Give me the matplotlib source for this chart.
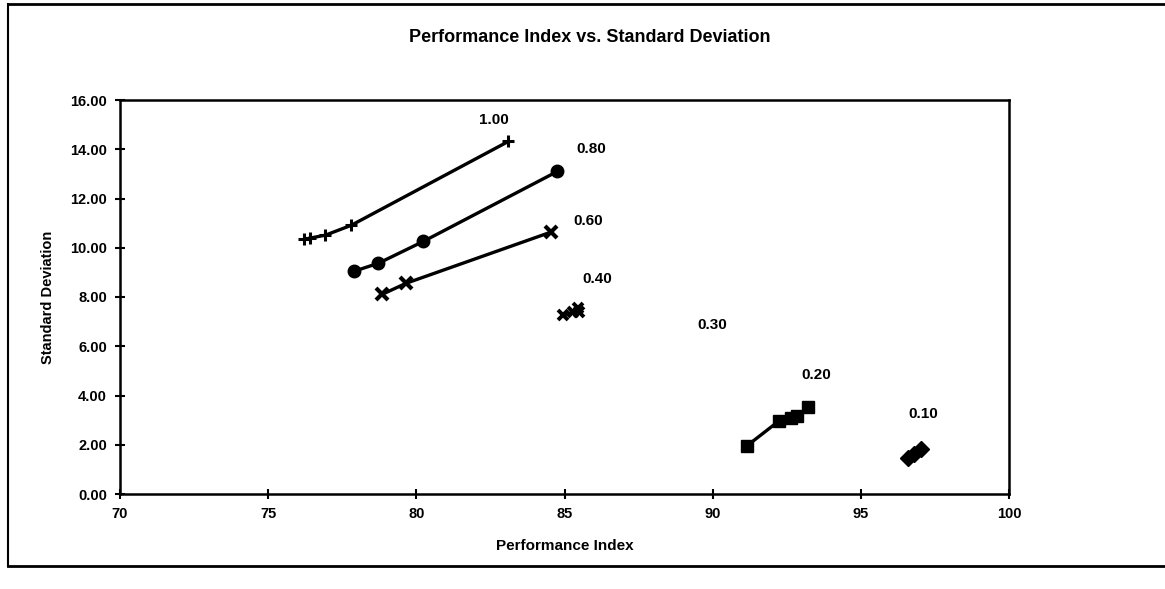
import matplotlib
matplotlib.use("Agg")
import matplotlib.pyplot as plt
from matplotlib.lines import Line2D

plt.rcParams['font.family'] = ['Liberation Sans', 'DejaVu Sans']
plt.rcParams['font.weight'] = 'bold'

# Performance index (x) and standard deviation (y) for each weighting level
pi_100 = [76.22, 76.40, 76.93, 77.80, 83.11]
sd_100 = [10.34, 10.39, 10.51, 10.91, 14.32]

pi_080 = [77.91, 78.72, 80.24, 84.76]
sd_080 = [9.05, 9.37, 10.26, 13.10]

pi_060 = [78.85, 79.66, 84.53]
sd_060 = [8.11, 8.56, 10.63]

pi_040 = [84.95, 85.27, 85.44, 85.50]
sd_040 = [7.26, 7.38, 7.55, 7.40]

pi_020 = [91.15, 92.23, 92.65, 92.85, 93.21]
sd_020 = [1.95, 2.96, 3.10, 3.15, 3.53]

pi_010 = [96.60, 96.80, 97.03]
sd_010 = [1.46, 1.62, 1.83]

series_labels = ["1.00", "0.80", "0.60", "0.40", "0.30", "0.20", "0.10"]
label_x = [82.6, 85.9, 85.8, 86.1, 90.0, 93.5, 97.1]
label_y = [15.2, 14.0, 11.1, 8.75, 6.85, 4.85, 3.25]

x_ticks = [70, 75, 80, 85, 90, 95, 100]
y_ticks = [0, 2, 4, 6, 8, 10, 12, 14, 16]

W, H = 1165, 589
fig = plt.figure(figsize=(W / 100, H / 100), dpi=100)
fig.patch.set_facecolor('white')

ax = fig.add_axes([120 / W, 1 - 494 / H, (1009 - 120) / W, (494 - 100) / H])

line_kw = dict(color='black', lw=2.4)
ax.plot(pi_100, sd_100, marker='+', ms=9, mew=2.2, **line_kw)
ax.plot(pi_080, sd_080, marker='o', ms=9, **line_kw)
ax.plot(pi_060, sd_060, marker='x', ms=8, mew=3, **line_kw)
ax.plot(pi_040, sd_040, marker='x', ms=7, mew=2.8, **line_kw)
ax.plot(pi_020, sd_020, marker='s', ms=9, **line_kw)
ax.plot(pi_010, sd_010, marker='D', ms=8, color='black', lw=7,
        solid_capstyle='round')

for txt, lx, ly in zip(series_labels, label_x, label_y):
    ax.text(lx, ly, txt, ha='center', va='center', fontsize=11,
            fontweight='bold')

ax.set_xlim(70, 100)
ax.set_ylim(0, 16)
ax.set_xticks(x_ticks)
ax.set_xticklabels([str(v) for v in x_ticks])
ax.set_yticks(y_ticks)
ax.set_yticklabels([f"{v:.2f}" for v in y_ticks])
ax.tick_params(direction='inout', length=7, width=1.5, labelsize=10.5, pad=6)
for s in ax.spines.values():
    s.set_linewidth(1.8)

ax.set_xlabel("Performance Index", fontsize=11, fontweight='bold', labelpad=13)
ax.set_ylabel("Standard Deviation", fontsize=10.5, fontweight='bold', labelpad=11)
fig.text(590 / W, 1 - 38 / H, "Performance Index vs. Standard Deviation",
         ha='center', va='center', fontsize=13, fontweight='bold')

# outer chart frame
fig.add_artist(Line2D([8 / W, 8 / W], [1 - 566 / H, 1 - 4 / H],
                      transform=fig.transFigure, color='black', lw=1.5))
fig.add_artist(Line2D([8 / W, 1.0], [1 - 4 / H, 1 - 4 / H],
                      transform=fig.transFigure, color='black', lw=2))
fig.add_artist(Line2D([8 / W, 1.0], [1 - 566 / H, 1 - 566 / H],
                      transform=fig.transFigure, color='black', lw=2))

fig.savefig("out.png", dpi=100, facecolor='white')
